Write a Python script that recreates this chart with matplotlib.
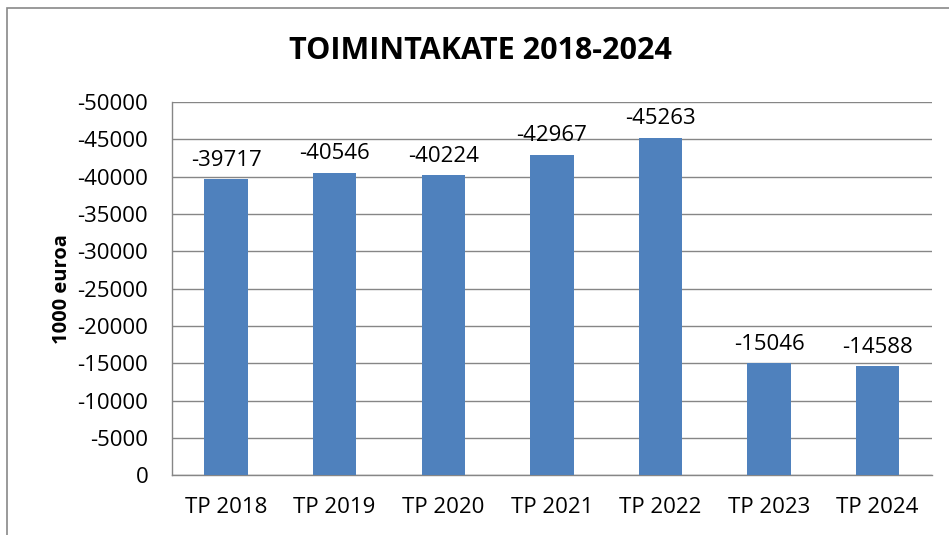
import matplotlib.pyplot as plt
from matplotlib.patches import Rectangle

plt.rcParams['font.family'] = ['Open Sans', 'DejaVu Sans']

categories = ['TP 2018', 'TP 2019', 'TP 2020', 'TP 2021', 'TP 2022', 'TP 2023', 'TP 2024']
values = [-39717, -40546, -40224, -42967, -45263, -15046, -14588]
yticks = [0, -5000, -10000, -15000, -20000, -25000, -30000, -35000, -40000, -45000, -50000]

fig = plt.figure(figsize=(9.49, 5.35), dpi=100)
ax = fig.add_axes([0.181, 0.112, 0.801, 0.697])

# outer chart frame
fig.patches.append(Rectangle((7 / 949, -0.05), 1.2, 1 - 8 / 535 + 0.05,
                             transform=fig.transFigure, fill=False,
                             edgecolor='#898989', linewidth=1.2))

x = range(len(categories))
bars = ax.bar(x, values, width=0.4, color='#4F81BD', zorder=3)

ax.set_ylim(0, -50000)
ax.set_xlim(-0.5, len(categories) - 0.5)
ax.set_yticks(yticks)
ax.set_yticklabels([str(v) for v in yticks])
ax.set_xticks(list(x))
ax.set_xticklabels(categories)
ax.tick_params(axis='both', length=0, labelsize=16)
ax.tick_params(axis='y', pad=17)
ax.tick_params(axis='x', pad=16)

ax.grid(axis='y', color='#868686', linewidth=1, zorder=0)
for side in ['top', 'right']:
    ax.spines[side].set_visible(False)
for side in ['left', 'bottom']:
    ax.spines[side].set_color('#868686')
    ax.spines[side].set_linewidth(1)

for b, v in zip(bars, values):
    ax.annotate(str(v), (b.get_x() + b.get_width() / 2, v),
                xytext=(0, 6), textcoords='offset points',
                ha='center', va='bottom', fontsize=16)

ax.set_ylabel('1000 euroa', fontsize=14.5, fontweight='bold', labelpad=4)
fig.text(0.506, 0.905, 'TOIMINTAKATE 2018-2024', ha='center', va='center',
         fontsize=22, fontweight='bold')

fig.savefig('out.png', dpi=100)
